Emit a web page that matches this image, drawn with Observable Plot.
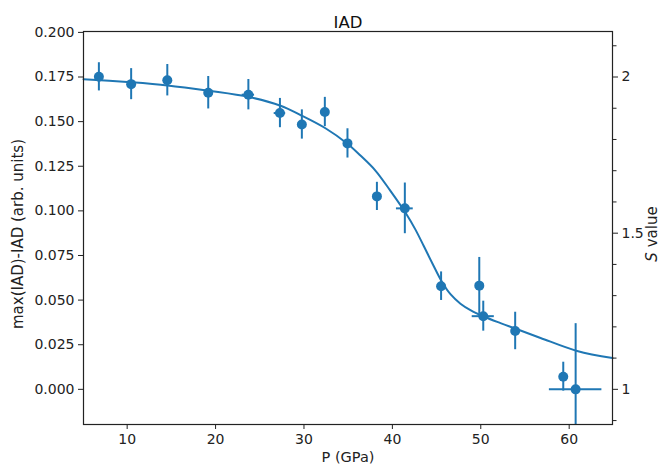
<!DOCTYPE html>
<html><head><meta charset="utf-8">
<script src="https://cdn.jsdelivr.net/npm/d3@7"></script>
<script src="https://cdn.jsdelivr.net/npm/@observablehq/plot@0.6"></script>
<style>
body{margin:0;background:#fff}
svg{font-family:"DejaVu Sans",sans-serif}
</style>
</head><body><div id="chart"></div>
<script>
// measured points
const pressure    = [6.8, 10.45, 14.54, 19.17, 23.71, 27.28, 29.76, 32.36, 34.92, 38.25, 41.41, 45.51, 49.83, 50.28, 53.89, 59.33, 60.73];
const iad         = [0.1751, 0.1710, 0.1732, 0.1662, 0.1651, 0.1548, 0.1484, 0.1554, 0.1378, 0.1081, 0.1014, 0.0578, 0.0581, 0.0410, 0.0327, 0.0071, 0.0000];
const iadErr      = [0.0079, 0.0087, 0.0088, 0.0091, 0.0085, 0.0082, 0.0082, 0.0082, 0.0082, 0.0079, 0.0142, 0.0080, 0.0158, 0.0084, 0.0105, 0.0081, 0.0368];
const pressureErr = [0, 0, 0, 0, 0.7, 0.65, 0, 0, 0, 0, 0.95, 0, 0, 1.25, 0, 0, 2.97];

// fitted curve
const fitP = [5.06, 10.0, 14.56, 19.2, 23.76, 27.35, 29.61, 32.43, 34.95, 36.39, 38.08, 39.78, 41.56, 42.61, 43.55, 44.53, 45.63, 46.57, 47.70, 48.83, 50.34, 52.23, 54.04, 56.76, 60.90, 64.9];
const fitV = [0.1738, 0.1722, 0.1703, 0.1673, 0.1638, 0.1589, 0.1537, 0.1463, 0.1375, 0.1310, 0.1226, 0.1112, 0.0984, 0.0895, 0.0803, 0.0705, 0.0600, 0.0533, 0.0480, 0.0444, 0.0408, 0.0371, 0.0338, 0.0288, 0.0215, 0.0175];

// axes
const xTicks = [10, 20, 30, 40, 50, 60];
const yTicks = [0, 0.025, 0.05, 0.075, 0.1, 0.125, 0.15, 0.175, 0.2];
const sMajor = [1, 1.5, 2];
const sMinor = [0.9, 1.1, 1.2, 1.3, 1.4, 1.6, 1.7, 1.8, 1.9, 2.1];
const sOneAt = 0;      // S = 1 sits at IAD 0
const sTwoAt = 0.175;  // S = 2 sits at IAD 0.175
const sToIad = s => sOneAt + (s - 1) * (sTwoAt - sOneAt);

const title = "IAD";
const xLabel = "P (GPa)";
const yLabel = "max(IAD)-IAD (arb. units)";
const y2Label = "S value";

const color = "#1f77b4";
const pts = pressure.map((p, i) => ({p, v: iad[i], ev: iadErr[i], ep: pressureErr[i]}));
const hpts = pts.filter(d => d.ep > 0);
const fit = fitP.map((p, i) => ({p, v: fitV[i]}));
const font = "DejaVu Sans";

const chart = Plot.plot({
  width: 663, height: 474,
  marginLeft: 83, marginRight: 51, marginTop: 31, marginBottom: 50,
  style: {fontFamily: font, fontSize: "14px", color: "#222", background: "#fff"},
  x: {domain: [5.06, 64.9]},
  y: {domain: [-0.0197, 0.2005]},
  marks: [
    Plot.line(fit, {x: "p", y: "v", stroke: color, strokeWidth: 2, curve: "catmull-rom"}),
    Plot.ruleX(pts, {x: "p", y1: d => d.v - d.ev, y2: d => d.v + d.ev, stroke: color, strokeWidth: 2, clip: true}),
    Plot.ruleY(hpts, {y: "v", x1: d => d.p - d.ep, x2: d => d.p + d.ep, stroke: color, strokeWidth: 2, clip: true}),
    Plot.dot(pts, {x: "p", y: "v", r: 5, fill: color, stroke: "none"}),
    Plot.frame({stroke: "#222", strokeWidth: 1.2}),
    Plot.axisX({ticks: xTicks, tickSize: 5, tickPadding: 5, fontSize: 14, label: null}),
    Plot.axisY({ticks: yTicks, tickSize: 5, tickPadding: 4, fontSize: 14, tickFormat: d3.format(".3f"), label: null}),
    Plot.axisY({anchor: "right", ticks: sMajor.map(sToIad), tickSize: 5, tickPadding: 4, fontSize: 14,
      tickFormat: v => String(+(1 + (v - sOneAt) / (sTwoAt - sOneAt)).toFixed(2)), label: null}),
    Plot.axisY({anchor: "right", ticks: sMinor.map(sToIad), tickSize: 3.5, tickFormat: () => "", label: null}),
    Plot.text([title], {frameAnchor: "top", dy: -15, fontSize: 16.5, fill: "#111"}),
    Plot.text([xLabel], {frameAnchor: "bottom", dy: 37, fontSize: 14.5, fill: "#222"}),
    Plot.text([yLabel], {frameAnchor: "left", textAnchor: "middle", dx: -65, dy: 6, rotate: -90, fontSize: 15, fill: "#222"}),
    Plot.text([y2Label], {frameAnchor: "right", textAnchor: "middle", dx: 40, dy: 6, rotate: -90, fontSize: 15, fill: "#222"})
  ]
});
// italic S in the right-hand label
d3.select(chart).selectAll("text").filter(function() { return this.textContent === y2Label; })
  .each(function() {
    const t = d3.select(this);
    t.text(null);
    t.append("tspan").attr("font-style", "italic").text(y2Label.slice(0, 1));
    t.append("tspan").text(y2Label.slice(1));
  });
document.getElementById("chart").appendChild(chart);
</script>
</body></html>
